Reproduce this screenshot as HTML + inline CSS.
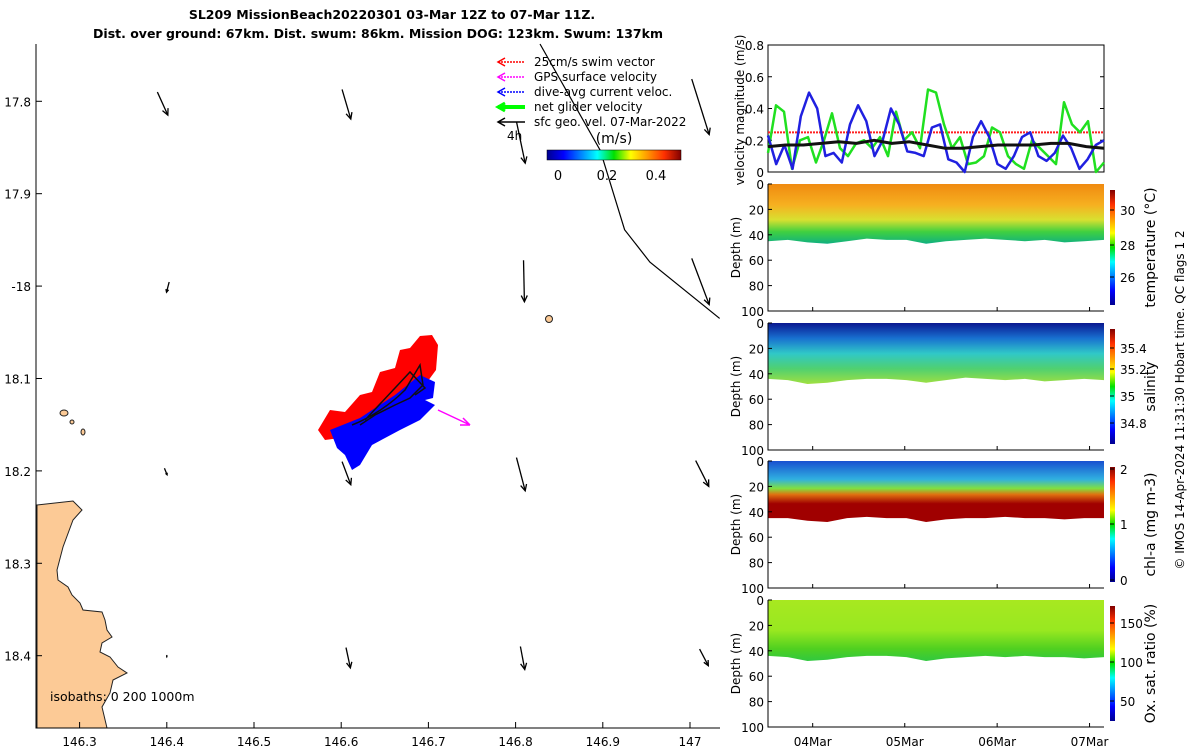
<!DOCTYPE html>
<html><head><meta charset="utf-8"><style>
body{margin:0;background:#fff;}
svg{font-family:"DejaVu Sans","Liberation Sans",sans-serif;}
</style></head><body>
<svg id="s" width="1200" height="750" viewBox="0 0 1200 750">
<defs>
<linearGradient id="jet" x1="0" x2="1" y1="0" y2="0">
<stop offset="0" stop-color="#00008f"/><stop offset="0.125" stop-color="#0000ff"/><stop offset="0.375" stop-color="#00ffff"/><stop offset="0.5" stop-color="#00e000"/><stop offset="0.625" stop-color="#ffff00"/><stop offset="0.875" stop-color="#ff3000"/><stop offset="1" stop-color="#800000"/></linearGradient>
<linearGradient id="jetv" x1="0" x2="0" y1="1" y2="0">
<stop offset="0" stop-color="#00008f"/><stop offset="0.125" stop-color="#0000ff"/><stop offset="0.375" stop-color="#00ffff"/><stop offset="0.5" stop-color="#00e000"/><stop offset="0.625" stop-color="#ffff00"/><stop offset="0.875" stop-color="#ff3000"/><stop offset="1" stop-color="#800000"/></linearGradient>
<linearGradient id="gT" x1="0" x2="0" y1="0" y2="1"><stop offset="0" stop-color="#f08a10"/><stop offset="0.35" stop-color="#f6b020"/><stop offset="0.6" stop-color="#d8e030"/><stop offset="0.8" stop-color="#40d040"/><stop offset="1" stop-color="#10b080"/></linearGradient>
<linearGradient id="gS" x1="0" x2="0" y1="0" y2="1"><stop offset="0" stop-color="#0a1890"/><stop offset="0.25" stop-color="#1870d0"/><stop offset="0.5" stop-color="#30c8c8"/><stop offset="0.75" stop-color="#50d070"/><stop offset="1" stop-color="#a0e040"/></linearGradient>
<linearGradient id="gC" x1="0" x2="0" y1="0" y2="1"><stop offset="0" stop-color="#1850d0"/><stop offset="0.3" stop-color="#30b0e0"/><stop offset="0.45" stop-color="#80e040"/><stop offset="0.55" stop-color="#e07010"/><stop offset="0.7" stop-color="#a00000"/><stop offset="1" stop-color="#a00000"/></linearGradient>
<linearGradient id="gO" x1="0" x2="0" y1="0" y2="1"><stop offset="0" stop-color="#a8e820"/><stop offset="0.5" stop-color="#98e820"/><stop offset="0.8" stop-color="#50d020"/><stop offset="1" stop-color="#30c840"/></linearGradient>
</defs>
<g id="map"></g>
<g id="right"></g>
</svg>
<script>
// ---- map data ----
const lonTicks=[146.3,146.4,146.5,146.6,146.7,146.8,146.9,147];
const latTicks=[17.8,17.9,18,18.1,18.2,18.3,18.4];
const latTickLabels=["17.8","17.9","-18","18.1","18.2","18.3","18.4"];
// geostrophic arrows: lon, lat, dlon, dlat
const arrowLon=[146.4,146.61,146.81,147.02,146.4,146.81,147.02,146.4,146.61,146.81,147.02,146.4,146.61,146.81,147.02];
const arrowLat=[17.8,17.8,17.84,17.8,18.0,17.99,17.99,18.2,18.2,18.2,18.2,18.4,18.4,18.4,18.4];
const arrowDLon=[0.012,0.01,0.01,0.02,-0.003,0.001,0.02,0.003,0.01,0.01,0.015,0.0,0.005,0.005,0.01];
const arrowDLat=[0.025,0.032,0.045,0.06,0.011,0.045,0.05,0.007,0.025,0.036,0.028,0.002,0.022,0.025,0.018];
// track
const trackLon=[146.828,146.897,146.925,146.954,147.034];
const trackLat=[17.738,17.853,17.939,17.974,18.035];
// velocity panel
const blueV=[0.23,0.05,0.17,0.02,0.35,0.50,0.40,0.10,0.12,0.06,0.30,0.42,0.32,0.10,0.20,0.40,0.30,0.13,0.12,0.10,0.28,0.30,0.08,0.06,0.0,0.22,0.32,0.22,0.05,0.02,0.10,0.22,0.25,0.10,0.07,0.12,0.23,0.15,0.02,0.08,0.17,0.20];
const greenV=[0.12,0.42,0.38,0.02,0.20,0.22,0.06,0.20,0.37,0.15,0.10,0.18,0.20,0.15,0.22,0.10,0.38,0.20,0.25,0.15,0.52,0.50,0.30,0.15,0.22,0.05,0.06,0.10,0.28,0.25,0.10,0.05,0.02,0.20,0.15,0.10,0.05,0.44,0.30,0.25,0.32,0.0,0.06];
const blackV=[0.16,0.17,0.17,0.18,0.19,0.18,0.20,0.18,0.19,0.17,0.15,0.15,0.16,0.17,0.17,0.17,0.18,0.18,0.16,0.15];
const swimV=0.25;
const velTicks=[0,0.2,0.4,0.6,0.8];
const depthTicks=[0,20,40,60,80,100];
const dateTicks=["04Mar","05Mar","06Mar","07Mar"];
const dateFrac=[0.133,0.407,0.682,0.957];

const NS="http://www.w3.org/2000/svg";
function mk(p,t,a,txt){const e=document.createElementNS(NS,t);for(const k in a)e.setAttribute(k,a[k]);if(txt!==undefined)e.textContent=txt;p.appendChild(e);return e;}
const X=l=>36+(l-146.25)*872;
const Y=l=>44+(l-17.738)*924;
const map=document.getElementById('map');
// coast
const coast=[[37,505],[73,501],[82,510],[73,520],[63,547],[57,570],[58,580],[68,587],[72,595],[80,603],[83,610],[102,612],[105,620],[107,630],[112,637],[102,643],[100,652],[110,657],[118,667],[127,673],[113,680],[110,693],[102,707],[107,728],[37,728]];
let c=mk(map,'polygon',{points:coast.map(p=>p.join(',')).join(' '),fill:'#fcca96',stroke:'#222','stroke-width':1});

mk(map,'ellipse',{cx:64,cy:413,rx:4,ry:3,fill:'#fcca96',stroke:'#222'});
mk(map,'ellipse',{cx:72,cy:422,rx:2,ry:2,fill:'#fcca96',stroke:'#222'});
mk(map,'ellipse',{cx:83,cy:432,rx:2,ry:3,fill:'#fcca96',stroke:'#222'});
mk(map,'ellipse',{cx:549,cy:319,rx:3.5,ry:3.5,fill:'#fcca96',stroke:'#222'});
// glider blobs
let r=mk(map,'polygon',{points:'318,430 330,410 345,412 360,395 372,392 380,372 395,368 400,350 410,348 420,336 432,335 438,345 436,370 425,385 400,400 380,415 360,425 340,438 325,440',fill:'#ff0000'});

let b=mk(map,'polygon',{points:'330,430 360,418 395,395 420,375 435,382 433,398 425,400 435,405 420,420 400,430 385,438 372,445 360,465 352,470 345,455 337,448',fill:'#0000ff'});

mk(map,'path',{d:'M352,425 C370,418 390,405 405,390 L420,365 L423,385 L410,398 L395,405 L375,415 L360,425 M365,420 L410,372 L425,388 L415,395',fill:'none',stroke:'#111','stroke-width':1.5});
mk(map,'path',{d:'M438,410 L470,425 M470,425 L460,425 M470,425 L463,418',stroke:'#ff00ff','stroke-width':1.5,fill:'none'});
// track
let tp=trackLon.map((l,i)=>X(l)+','+Y(trackLat[i])).join(' ');
let tr=mk(map,'polyline',{points:tp,fill:'none',stroke:'#000','stroke-width':1.2});

// arrows
for(let i=0;i<arrowLon.length;i++){
 const x1=X(arrowLon[i])-(arrowDLon[i]*872*0.9),y1=Y(arrowLat[i])-(arrowDLat[i]*924*0.4);
 const x2=x1+arrowDLon[i]*872,y2=y1+arrowDLat[i]*924;
 const g=mk(map,'g',{});
 
 
 mk(g,'line',{x1,y1,x2,y2,stroke:'#000','stroke-width':1.3});
 const a=Math.atan2(y2-y1,x2-x1),h=Math.min(7,Math.hypot(x2-x1,y2-y1)*0.3);
 mk(g,'path',{d:`M${x2-h*Math.cos(a-0.45)},${y2-h*Math.sin(a-0.45)} L${x2},${y2} L${x2-h*Math.cos(a+0.45)},${y2-h*Math.sin(a+0.45)}`,fill:'none',stroke:'#000','stroke-width':1.3});
}
// axes
mk(map,'path',{d:'M36,44 L36,728 L720,728',fill:'none',stroke:'#000','stroke-width':1});
lonTicks.forEach(l=>{const x=X(l);mk(map,'line',{x1:x,x2:x,y1:728,y2:722,stroke:'#000'});
 const t=mk(map,'text',{x,y:746,'text-anchor':'middle','font-size':12},String(l));});
latTicks.forEach((l,i)=>{const y=Y(l);mk(map,'line',{x1:36,x2:42,y1:y,y2:y,stroke:'#000'});
 const t=mk(map,'text',{x:31,y:y+5,'text-anchor':'end','font-size':12},latTickLabels[i]);});
let tt=mk(map,'text',{x:392,y:19,'text-anchor':'middle','font-size':12.5,'font-weight':'bold'},'SL209 MissionBeach20220301 03-Mar 12Z to 07-Mar 11Z.');

tt=mk(map,'text',{x:378,y:38,'text-anchor':'middle','font-size':12.5,'font-weight':'bold'},'Dist. over ground: 67km. Dist. swum: 86km. Mission DOG: 123km. Swum: 137km');

// legend
const legTxt=['25cm/s swim vector','GPS surface velocity','dive-avg current veloc.','net glider velocity','sfc geo. vel. 07-Mar-2022'];
const legCol=['#ff0000','#ff00ff','#0000ff','#00ff00','#000'];
legTxt.forEach((s,i)=>{const y=62+i*15;const g=mk(map,'g',{});
 
 mk(g,'line',{x1:498,x2:525,y1:y,y2:y,stroke:legCol[i],'stroke-width':i==3?4:1.5,'stroke-dasharray':i<3?'2,1':''});
 mk(g,'path',{d:`M505,${y-4} L498,${y} L505,${y+4}`,fill:'none',stroke:legCol[i],'stroke-width':i==3?3:1.5});
 mk(g,'text',{x:534,y:y+4,'font-size':12},s);});
mk(map,'text',{x:507,y:140,'font-size':12},'4h');
mk(map,'text',{x:614,y:143,'text-anchor':'middle','font-size':14},'(m/s)');
let cb=mk(map,'rect',{x:547,y:150,width:134,height:10,fill:'url(#jet)',stroke:'#000','stroke-width':0.5});

[['0',558],['0.2',607],['0.4',656]].forEach(a=>mk(map,'text',{x:a[1],y:180,'text-anchor':'middle','font-size':13},a[0]));
mk(map,'text',{x:50,y:701,'font-size':12.5},'isobaths: 0   200  1000m');

// ---- right panels ----
const R=document.getElementById('right');
const PX0=768,PX1=1104,W=PX1-PX0;
const vy=v=>172-v/0.8*127;
const vp=mk(R,'g',{});
mk(vp,'rect',{x:PX0,y:45,width:W,height:127,fill:'#fff',stroke:'#000'});
velTicks.forEach(v=>{mk(vp,'text',{x:764,y:vy(v)+5,'text-anchor':'end','font-size':12},String(v));mk(vp,'line',{x1:PX0,x2:PX0+4,y1:vy(v),y2:vy(v),stroke:'#000'});mk(vp,'line',{x1:PX1,x2:PX1-4,y1:vy(v),y2:vy(v),stroke:'#000'});});
mk(vp,'line',{x1:PX0,x2:PX1,y1:vy(swimV),y2:vy(swimV),stroke:'#ff2020','stroke-width':2,'stroke-dasharray':'2,1'});
function series(arr,col,w,nm){const p=arr.map((v,i)=>(PX0+i/(arr.length-1)*W).toFixed(1)+','+vy(v).toFixed(1)).join(' ');
 const e=mk(vp,'polyline',{points:p,fill:'none',stroke:col,'stroke-width':w,'stroke-linejoin':'round'});}
series(greenV,'#20e020',2.5,'net-glider-velocity-line');
series(blueV,'#2020e0',2.5,'dive-avg-current-line');
series(blackV,'#111',3,'geostrophic-velocity-line');
let yl=mk(vp,'text',{transform:'translate(744,110) rotate(-90)','text-anchor':'middle','font-size':12},'velocity magnitude (m/s)');
// depth panels
const panels=[
 {y0:184,grad:'url(#gT)',cb:[['30',210],['28',245],['26',277]],lab:'temperature (°C)',name:'temperature-panel',bot:[44,45,46,44,45,44,43,44,45,47,44,44,43,45,47,46,44,45]},
 {y0:323,grad:'url(#gS)',cb:[['35.4',348],['35.2',369],['35',396],['34.8',423]],lab:'salinity',name:'salinity-panel',bot:[45,44,45,46,44,45,44,43,45,47,45,44,44,45,47,48,45,44]},
 {y0:461,grad:'url(#gC)',cb:[['2',469],['1',524],['0',580]],lab:'chl-a (mg m-3)',name:'chlorophyll-panel',bot:[45,45,46,45,45,44,45,45,46,48,45,45,44,45,48,47,45,45]},
 {y0:600,grad:'url(#gO)',cb:[['150',623],['100',662],['50',701]],lab:'Ox. sat. ratio (%)',name:'oxygen-panel',bot:[45,46,45,45,44,45,44,45,46,48,45,44,44,45,47,48,45,44]}];
panels.forEach(P=>{const g=mk(R,'g',{});
 const dy=d=>P.y0+d/100*127;
 let pts=`${PX0},${dy(0)} ${PX1},${dy(0)} `+P.bot.map((d,i)=>(PX1-i/(P.bot.length-1)*W).toFixed(1)+','+dy(d).toFixed(1)).join(' ');
 mk(g,'polygon',{points:pts,fill:P.grad});
 mk(g,'path',{d:`M${PX0},${P.y0} L${PX0},${dy(100)} L${PX1},${dy(100)}`,fill:'none',stroke:'#000'});
 depthTicks.forEach(d=>{mk(g,'text',{x:764,y:dy(d)+5,'text-anchor':'end','font-size':12},String(d));mk(g,'line',{x1:PX0,x2:PX0+4,y1:dy(d),y2:dy(d),stroke:'#000'});});
 mk(g,'text',{transform:`translate(740,${dy(50)}) rotate(-90)`,'text-anchor':'middle','font-size':12},'Depth (m)');
 dateFrac.forEach(f=>mk(g,'line',{x1:PX0+f*W,x2:PX0+f*W,y1:dy(100),y2:dy(100)-4,stroke:'#000'}));
 const cby=P.y0+6, cbh=115;
 mk(g,'rect',{x:1110,y:cby,width:5,height:cbh,fill:'url(#jetv)'});
 P.cb.forEach(a=>{mk(g,'text',{x:1120,y:a[1]+5,'font-size':12},a[0]);mk(g,'line',{x1:1110,x2:1114,y1:a[1],y2:a[1],stroke:'#000'});});
 mk(g,'text',{transform:`translate(1155,${cby+cbh/2}) rotate(-90)`,'text-anchor':'middle','font-size':14},P.lab);
});
dateTicks.forEach((d,i)=>{const t=mk(R,'text',{x:PX0+dateFrac[i]*W,y:746,'text-anchor':'middle','font-size':12},d);});
mk(R,'text',{transform:'translate(1184,400) rotate(-90)','text-anchor':'middle','font-size':12},'© IMOS 14-Apr-2024 11:31:30 Hobart time. QC flags 1  2');
</script>
</body></html>
